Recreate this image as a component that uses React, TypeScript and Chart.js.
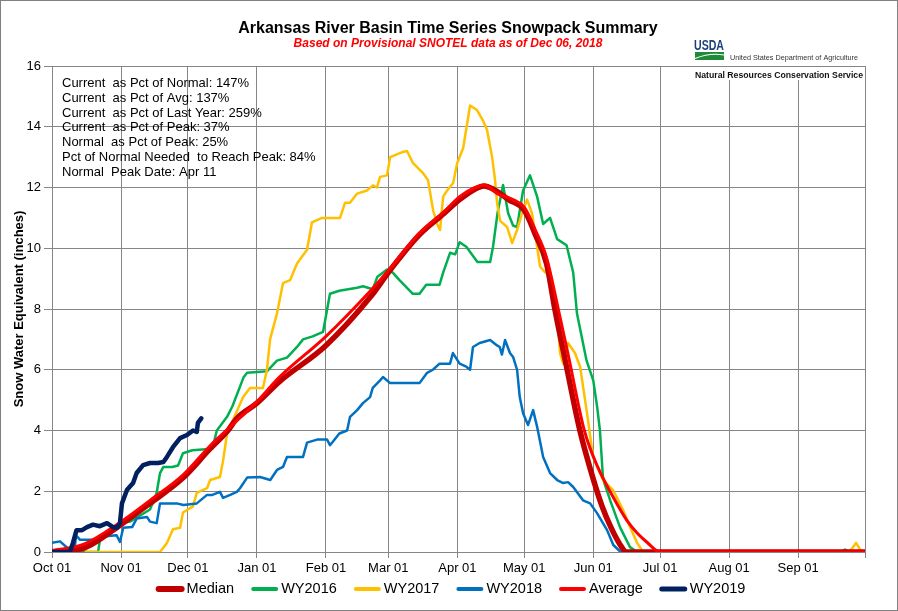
import React, { useEffect, useRef } from 'react';
import { Chart, registerables } from 'chart.js';

Chart.register(...registerables);

const FONT = "'Liberation Sans', Arial, Helvetica, sans-serif";

const titleText = 'Arkansas River Basin Time Series Snowpack Summary';
const subtitleText = 'Based on Provisional SNOTEL data as of Dec 06, 2018';
const yTitle = 'Snow Water Equivalent (inches)';
const statLines = [
  'Current  as Pct of Normal: 147%',
  'Current  as Pct of Avg: 137%',
  'Current  as Pct of Last Year: 259%',
  'Current  as Pct of Peak: 37%',
  'Normal  as Pct of Peak: 25%',
  'Pct of Normal Needed  to Reach Peak: 84%',
  'Normal  Peak Date: Apr 11',
];

// x axis: day of water year (Oct 01 = 0)
const tickDays = [0, 31, 61, 92, 123, 151, 182, 212, 243, 273, 304, 335, 365];
const tickLabels = ['Oct 01', 'Nov 01', 'Dec 01', 'Jan 01', 'Feb 01', 'Mar 01', 'Apr 01', 'May 01', 'Jun 01', 'Jul 01', 'Aug 01', 'Sep 01', ''];

const seriesNames = ['Median', 'WY2016', 'WY2017', 'WY2018', 'Average', 'WY2019'];
const seriesColors = ['#C00000', '#00B050', '#FFC000', '#0070C0', '#FF0000', '#002060'];

const medianDays = [0, 8, 14, 19, 29, 44, 59, 71, 79, 83, 92, 102, 123, 143, 152, 165, 176, 183, 190, 194, 198, 205, 212, 217, 222, 226, 231, 237, 243, 247, 251, 255, 258, 365];
const medianValues = [0, 0.05, 0.12, 0.3, 0.8, 1.6, 2.45, 3.4, 4.0, 4.4, 4.9, 5.6, 6.8, 8.4, 9.3, 10.45, 11.15, 11.6, 11.95, 12.05, 11.95, 11.6, 11.25, 10.45, 9.5, 7.9, 6.1, 4.0, 2.4, 1.5, 0.8, 0.25, 0, 0];

const avgDays = [0, 14, 30, 44, 59, 71, 79, 92, 102, 123, 143, 152, 165, 176, 183, 190, 194, 200, 207, 212, 217, 222, 227, 232, 239, 245, 252, 258, 263, 267, 273, 365];
const avgValues = [0.05, 0.25, 0.95, 1.7, 2.55, 3.5, 4.05, 4.95, 5.75, 7.1, 8.6, 9.35, 10.5, 11.2, 11.7, 12.0, 12.08, 11.8, 11.6, 11.35, 10.6, 9.7, 8.1, 6.4, 4.0, 2.8, 1.8, 1.05, 0.6, 0.33, 0, 0];

const wy2016Days = [0, 20.7, 21.6, 24, 31.4, 35, 44, 47, 48.5, 50, 54, 56.6, 58.8, 63, 72, 74, 78.6, 81, 86, 87.6, 96.5, 101, 105.5, 110, 112.7, 117, 121.7, 124.8, 129, 137, 139.6, 144, 146, 150.4, 153, 156, 162, 165, 168, 174, 175.6, 178.7, 181, 183, 186, 191, 196.7, 198, 200, 202.5, 204.8, 207, 208.8, 211.5, 214.6, 217.8, 220.5, 223.6, 226.8, 231, 234, 235.7, 240, 243, 244.7, 246, 247.4, 250.6, 255, 259.5, 262.7, 354, 356, 358, 365];
const wy2016Values = [0, 0, 0.45, 0.5, 0.95, 1.0, 1.4, 1.95, 2.6, 2.8, 2.8, 2.85, 3.25, 3.35, 3.4, 4.0, 4.45, 4.8, 5.75, 5.9, 5.95, 6.3, 6.4, 6.75, 7.0, 7.1, 7.25, 8.5, 8.6, 8.7, 8.75, 8.65, 9.05, 9.3, 9.2, 8.95, 8.5, 8.5, 8.8, 8.8, 9.2, 9.85, 9.8, 10.2, 10.05, 9.55, 9.55, 10.05, 11.15, 12.08, 11.15, 10.75, 10.7, 11.9, 12.4, 11.7, 10.8, 11.0, 10.3, 10.1, 9.2, 7.85, 6.3, 5.65, 4.8, 4.0, 2.4, 1.7, 0.82, 0.16, 0, 0, 0.08, 0, 0];

const wy2017Days = [0, 9.4, 10.8, 14.4, 15.7, 48.5, 51.6, 54.3, 57.5, 58.8, 63.3, 65, 69.6, 71, 75.4, 76.8, 78.6, 81.3, 85.8, 88.9, 94.7, 96.5, 97.9, 101, 103.7, 106.9, 110, 114.5, 116.7, 121.2, 129.3, 131.6, 133.8, 137, 141.4, 144.1, 145.9, 147.3, 150.4, 151.8, 157.6, 159.4, 162.1, 166.6, 168.8, 171.1, 172.9, 174.2, 175.6, 177.4, 180.1, 181.9, 184.6, 187.7, 190.8, 193.5, 195.3, 197.6, 198.9, 199.8, 201.2, 204.3, 206.6, 208.8, 211, 213.3, 215.5, 217.8, 219.1, 221.4, 222.7, 224.5, 226.8, 228.1, 229.5, 231.7, 234.8, 237.1, 240.2, 242.9, 247.4, 251.9, 256.4, 259.5, 262.7, 265.4, 357, 359, 361, 363, 365];
const wy2017Values = [0, 0, 0.1, 0.1, 0, 0, 0.3, 0.75, 0.8, 1.3, 1.5, 1.95, 2.1, 2.37, 2.47, 3.0, 3.9, 4.35, 5.1, 5.4, 5.4, 6.0, 7.0, 7.85, 8.85, 8.95, 9.5, 9.95, 10.85, 11.0, 11.0, 11.5, 11.5, 11.8, 11.9, 12.07, 12.0, 12.35, 12.4, 13.0, 13.17, 13.2, 12.8, 12.47, 12.25, 11.25, 10.8, 10.6, 11.7, 11.9, 12.15, 12.8, 13.3, 14.7, 14.55, 14.2, 13.9, 13.0, 12.25, 11.5, 10.9, 10.7, 10.17, 10.6, 11.15, 11.6, 11.15, 10.05, 9.4, 9.2, 9.4, 8.95, 7.85, 6.55, 6.2, 6.88, 6.55, 6.1, 4.57, 3.13, 2.37, 2.04, 1.38, 0.82, 0.3, 0, 0, 0.1, 0.3, 0.05, 0];

const wy2018Days = [0, 3.6, 6.7, 8, 10, 10.8, 12.6, 20, 21.5, 29, 30.5, 32, 36, 38, 42.7, 44, 47, 48.5, 56, 59, 65, 69.6, 72, 75.4, 76.8, 80, 83, 84.4, 87.6, 93.4, 98, 101, 103.7, 105.5, 112.7, 114.5, 119, 123.5, 124.8, 126, 129, 132.5, 133.8, 137, 139.6, 142.8, 144, 147.3, 148.6, 151.8, 165, 168.4, 171, 174, 178.7, 180, 183, 186, 187.7, 189, 192, 196.7, 199.8, 201, 202, 203.4, 205.6, 207, 208.8, 210, 211.5, 213.7, 216, 217.8, 220.5, 223.6, 226.8, 229.5, 231.7, 234, 238.4, 241.6, 244.7, 249.2, 252, 255.3, 365];
const wy2018Values = [0.3, 0.35, 0.15, 0, 0, 0.55, 0.4, 0.4, 0.5, 0.55, 0.33, 0.8, 0.82, 1.1, 1.15, 1.0, 0.95, 1.6, 1.6, 1.55, 1.6, 1.88, 1.88, 1.98, 1.78, 1.88, 1.98, 2.1, 2.45, 2.47, 2.37, 2.7, 2.8, 3.13, 3.13, 3.6, 3.7, 3.7, 3.52, 3.62, 3.9, 4.0, 4.45, 4.67, 4.9, 5.1, 5.4, 5.65, 5.76, 5.56, 5.56, 5.9, 6.0, 6.2, 6.2, 6.55, 6.2, 6.1, 6.0, 6.75, 6.88, 6.98, 6.8, 6.75, 6.5, 6.98, 6.55, 6.42, 6.0, 5.1, 4.57, 4.18, 4.67, 4.12, 3.13, 2.6, 2.37, 2.27, 2.3, 2.14, 1.7, 1.6, 1.28, 0.72, 0.23, 0, 0];

const wy2019Days = [0, 8, 9.4, 11, 13.5, 15.7, 18.4, 21.5, 24.7, 27.4, 29.2, 30.5, 31.4, 33.7, 36.4, 38, 40.9, 44, 47.6, 50, 51.6, 54.3, 57.5, 60.6, 63.3, 65, 65.5, 67];
const wy2019Values = [0, 0, 0.3, 0.72, 0.72, 0.82, 0.9, 0.85, 0.95, 0.82, 0.8, 0.95, 1.6, 2.05, 2.27, 2.6, 2.86, 2.93, 2.93, 2.96, 3.13, 3.45, 3.75, 3.85, 4.0, 3.95, 4.25, 4.4];

const seriesDays = [medianDays, wy2016Days, wy2017Days, wy2018Days, avgDays, wy2019Days];
const seriesValues = [medianValues, wy2016Values, wy2017Values, wy2018Values, avgValues, wy2019Values];
const lineWidths = [5.5, 2.5, 2.5, 2.5, 3, 4.5];
const legendLineWidths = [6, 4, 4, 4, 4, 5];
const drawOrder = [2, 5, 4, 3, 1, 0];
const smoothSeries = [true, false, false, false, true, false];

const decorPlugin = {
  id: 'decor',
  afterDraw(chart: any) {
    const ctx = chart.ctx as CanvasRenderingContext2D;
    ctx.save();
    ctx.fillStyle = '#000';
    ctx.textAlign = 'center';
    ctx.textBaseline = 'alphabetic';
    ctx.font = `bold 16px ${FONT}`;
    ctx.fillText(titleText, 448, 32.5);
    ctx.fillStyle = '#FF0000';
    ctx.font = `italic bold 12px ${FONT}`;
    ctx.fillText(subtitleText, 448, 46.5);

    ctx.textAlign = 'left';
    ctx.fillStyle = '#000';
    ctx.font = `13px ${FONT}`;
    statLines.forEach((t, i) => ctx.fillText(t, 62, 87.3 + i * 14.7));

    ctx.save();
    ctx.translate(19, (chart.chartArea.top + chart.chartArea.bottom) / 2);
    ctx.rotate(-Math.PI / 2);
    ctx.textAlign = 'center';
    ctx.textBaseline = 'middle';
    ctx.font = `bold 13px ${FONT}`;
    ctx.fillText(yTitle, 0, 0);
    ctx.restore();

    // Legend (line samples + dataset labels)
    const ds = chart.data.datasets;
    ctx.font = `14.5px ${FONT}`;
    ctx.textBaseline = 'middle';
    ctx.textAlign = 'left';
    const markW = 27;
    const markGap = 3;
    const itemGap = 17;
    const widths = ds.map((d: any) => ctx.measureText(d.label).width);
    const total = widths.reduce((a: number, b: number) => a + b, 0) + ds.length * (markW + markGap) + (ds.length - 1) * itemGap;
    let lx = 451 - total / 2;
    const ly = 589;
    ds.forEach((d: any, i: number) => {
      ctx.strokeStyle = d.borderColor;
      ctx.lineWidth = legendLineWidths[i];
      ctx.lineCap = 'round';
      ctx.beginPath();
      ctx.moveTo(lx + 2, ly);
      ctx.lineTo(lx + markW - 2, ly);
      ctx.stroke();
      ctx.fillStyle = '#000';
      ctx.fillText(d.label, lx + markW + markGap, ly);
      lx += markW + markGap + widths[i] + itemGap;
    });

    // USDA / NRCS logo
    ctx.textBaseline = 'alphabetic';
    ctx.fillStyle = '#fff';
    ctx.fillRect(689, 67, 173, 13);
    ctx.fillStyle = '#1c3f7d';
    ctx.font = `bold 14px ${FONT}`;
    ctx.fillText('USDA', 694, 50, 30);
    ctx.fillStyle = '#1f8a3a';
    ctx.fillRect(695, 52, 29, 8);
    ctx.strokeStyle = '#fff';
    ctx.lineWidth = 1.2;
    ctx.lineCap = 'butt';
    ctx.beginPath();
    ctx.moveTo(695, 58.5);
    ctx.quadraticCurveTo(710, 52.5, 724, 55);
    ctx.stroke();
    ctx.fillStyle = '#333';
    ctx.font = `8px ${FONT}`;
    ctx.fillText('United States Department of Agriculture', 730, 60, 128);
    ctx.fillStyle = '#111';
    ctx.font = `bold 9px ${FONT}`;
    ctx.fillText('Natural Resources Conservation Service', 695, 77.5, 168);

    ctx.strokeStyle = '#808080';
    ctx.lineWidth = 1;
    ctx.strokeRect(0.5, 0.5, 897, 610);
    ctx.restore();
  },
};

export default function App() {
  const ref = useRef<HTMLCanvasElement | null>(null);

  useEffect(() => {
    document.body.style.margin = '0';
    const canvas = ref.current;
    if (!canvas) return;
    const datasets = seriesNames.map((name, i) => ({
      label: name,
      data: seriesDays[i].map((d, j) => ({ x: d, y: seriesValues[i][j] })),
      borderColor: seriesColors[i],
      backgroundColor: seriesColors[i],
      borderWidth: lineWidths[i],
      pointRadius: 0,
      tension: smoothSeries[i] ? 0.4 : 0,
      cubicInterpolationMode: smoothSeries[i] ? 'monotone' : 'default',
      borderJoinStyle: 'round',
      borderCapStyle: 'round',
      order: drawOrder[i],
      fill: false,
    }));

    const chart = new Chart(canvas, {
      type: 'line',
      data: { datasets } as any,
      options: {
        responsive: false,
        animation: false,
        devicePixelRatio: 1,
        layout: { padding: { top: 66, left: 0, right: 33, bottom: 30 } },
        plugins: {
          title: { display: false },
          tooltip: { enabled: false },
          legend: { display: false },
        },
        scales: {
          x: {
            type: 'linear',
            min: 0,
            max: 365,
            afterBuildTicks: (scale: any) => {
              scale.ticks = tickDays.map((v) => ({ value: v }));
            },
            afterFit: (scale: any) => {
              scale.height = 29;
            },
            ticks: {
              autoSkip: false,
              maxRotation: 0,
              padding: 3,
              color: '#000',
              font: { family: FONT, size: 13 },
              callback: (v: any) => {
                const idx = tickDays.indexOf(Number(v));
                return idx >= 0 ? tickLabels[idx] : '';
              },
            },
            grid: { color: '#868686', lineWidth: 1, tickLength: 6 },
            border: { color: '#868686' },
          },
          y: {
            min: 0,
            max: 16,
            afterFit: (scale: any) => {
              scale.width = 52;
            },
            ticks: {
              stepSize: 2,
              padding: 3,
              color: '#000',
              font: { family: FONT, size: 13 },
            },
            grid: { color: '#868686', lineWidth: 1, tickLength: 8 },
            border: { color: '#868686' },
          },
        },
      } as any,
      plugins: [decorPlugin],
    });
    return () => chart.destroy();
  }, []);

  return (
    <canvas
      ref={ref}
      width={898}
      height={611}
      style={{ display: 'block', width: 898, height: 611 }}
    />
  );
}
